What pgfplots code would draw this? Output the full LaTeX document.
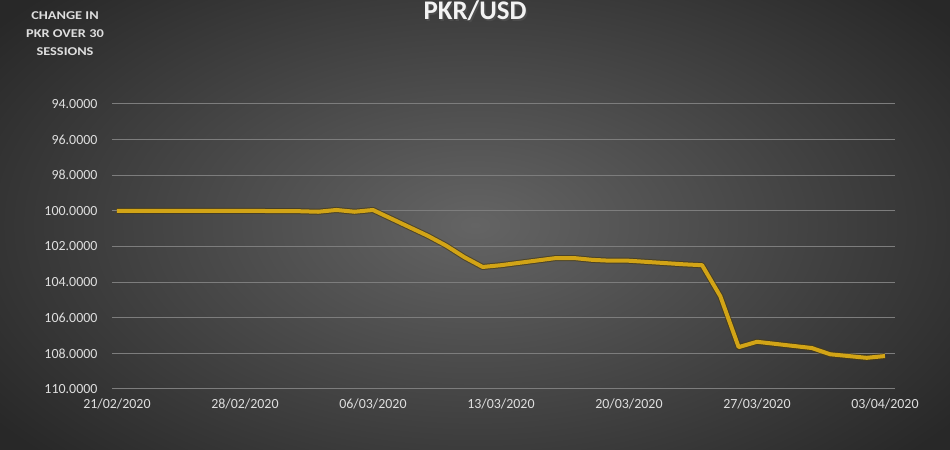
\documentclass[border=0pt]{standalone}
\usepackage{pgfplots}
\pgfplotsset{compat=1.18}
\usepackage{pgfplotstable}
\usepackage{fontspec}
\setmainfont{Carlito}
\definecolor{bgin}{RGB}{100,100,100}
\definecolor{bgout}{RGB}{40,40,40}
\definecolor{gridc}{RGB}{125,125,125}
\definecolor{gold}{RGB}{210,164,22}
\definecolor{goldsh}{RGB}{70,58,20}
\definecolor{txt}{RGB}{222,222,222}
\pgfplotstableread{
day value
0 100.00
3 100.00
4 100.00
5 100.00
6 100.00
7 100.00
10 100.02
11 100.05
12 99.95
13 100.05
14 99.95
17 101.40
18 101.95
19 102.60
20 103.15
21 103.05
24 102.65
25 102.65
26 102.75
27 102.80
28 102.80
31 103.00
32 103.05
33 104.80
34 107.65
35 107.35
38 107.70
39 108.05
40 108.15
41 108.25
42 108.15
}\pkr
\begin{document}
\begin{tikzpicture}[x=1bp,y=1bp]
\useasboundingbox (0,0) rectangle (950,450);
\shade[inner color=bgin, outer color=bgout] (-120,-110) rectangle (1070,560);
\begin{axis}[
  at={(112bp,61bp)}, anchor=south west,
  scale only axis, width=783bp, height=285bp,
  xmin=-0.27, xmax=42.55,
  ymin=94, ymax=110, y dir=reverse,
  ytick={94,96,...,110},
  xtick={0,7,14,21,28,35,42},
  xticklabels={21/02/2020,28/02/2020,06/03/2020,13/03/2020,20/03/2020,27/03/2020,03/04/2020},
  axis line style={draw=none},
  major tick length=0pt,
  ymajorgrids, major grid style={gridc, line width=1bp},
  /pgf/number format/assume math mode=true,
  yticklabel={\pgfmathprintnumber[fixed,fixed zerofill,precision=4,1000 sep={}]{\tick}},
  tick label style={font=\fontsize{14}{15}\selectfont, text=txt},
  yticklabel style={anchor=east, xshift=-11bp},
  xticklabel style={yshift=-6bp},
  clip=false,
]
\addplot[goldsh, line width=6bp, line join=round, opacity=0.7] table[x=day,y=value]{\pkr};
\addplot[gold, line width=4bp, line join=round] table[x=day,y=value]{\pkr};
\end{axis}
\node[text=black!70, font=\bfseries\fontsize{27}{28}\selectfont] at (476.5,437.5) {PKR/USD};
\node[text=white!95!black, font=\bfseries\fontsize{27}{28}\selectfont] at (475,439) {PKR/USD};
\node[text=txt, font=\bfseries\fontsize{12}{18}\selectfont, align=center] at (65,416) {\scalebox{1.2}[1]{CHANGE IN}\\\scalebox{1.2}[1]{PKR OVER 30}\\\scalebox{1.2}[1]{SESSIONS}};
\end{tikzpicture}
\end{document}
